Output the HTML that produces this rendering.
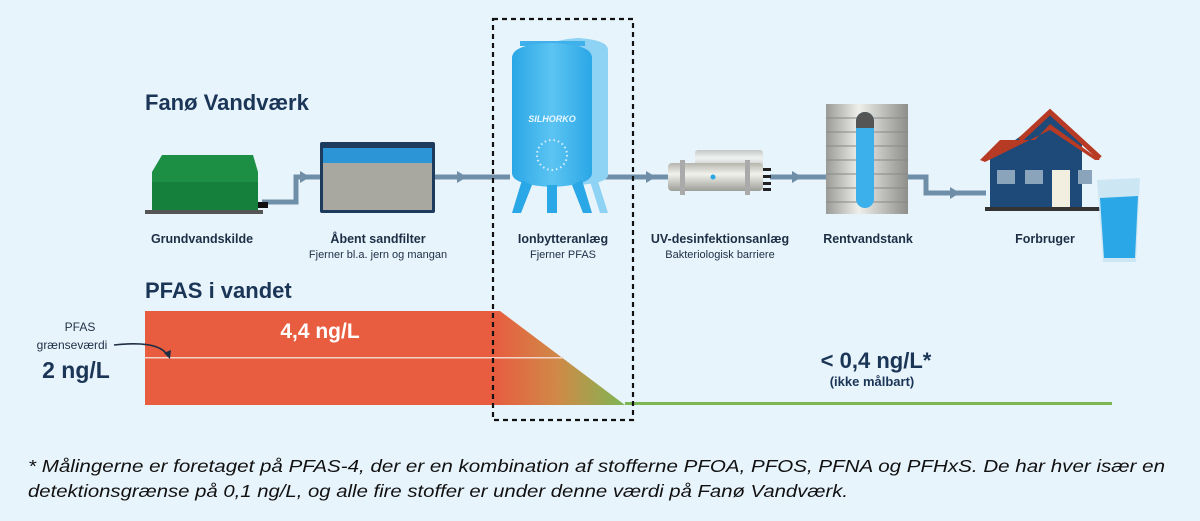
<!DOCTYPE html>
<html><head><meta charset="utf-8"><style>
html,body{margin:0;padding:0;background:#e8f4fc;}
svg{display:block;font-family:"Liberation Sans",sans-serif;}
</style></head><body>
<svg width="1200" height="521" viewBox="0 0 1200 521" xmlns="http://www.w3.org/2000/svg">
<defs>
<linearGradient id="fade" gradientUnits="userSpaceOnUse" x1="493" x2="625" y1="0" y2="0">
<stop offset="0" stop-color="#e85c3f"/><stop offset="0.5" stop-color="#cf8a48"/><stop offset="1" stop-color="#7db653"/>
</linearGradient>
<linearGradient id="tank" x1="0" x2="1"><stop offset="0" stop-color="#9a9a96"/><stop offset="0.4" stop-color="#eeeeea"/><stop offset="1" stop-color="#8e8e8a"/></linearGradient>
<linearGradient id="uv" x1="0" x2="0" y1="0" y2="1"><stop offset="0" stop-color="#b5b5ae"/><stop offset="0.4" stop-color="#f2f2ec"/><stop offset="1" stop-color="#9e9e98"/></linearGradient>
<linearGradient id="blue" x1="0" x2="1"><stop offset="0" stop-color="#2aa7e6"/><stop offset="0.5" stop-color="#5cc4f2"/><stop offset="1" stop-color="#2aa7e6"/></linearGradient>
</defs>
<rect width="1200" height="521" fill="#e8f4fc"/>

<!-- pipes -->
<g stroke="#6f8fa8" stroke-width="5" fill="none">
<path d="M262 202 H296 V177 H320"/>
<path d="M435 177 H510"/>
<path d="M600 177 H668"/>
<path d="M770 177 H826"/>
<path d="M908 177 H926 V193 H986"/>
</g>
<g fill="#6f8fa8">
<path d="M300 171 L310 177 L300 183Z"/>
<path d="M457 171 L467 177 L457 183Z"/>
<path d="M646 171 L656 177 L646 183Z"/>
<path d="M792 171 L802 177 L792 183Z"/>
<path d="M950 187 L960 193 L950 199Z"/>
</g>

<!-- Grundvandskilde -->
<rect x="145" y="210" width="118" height="4" fill="#555"/>
<path d="M152 210 L152 172 L162 155 L253 155 L258 172 L258 210Z" fill="#1d8f45"/>
<path d="M152 182 L258 182 L258 210 L152 210Z" fill="#14803b"/>
<rect x="258" y="202" width="10" height="6" fill="#111"/>

<!-- sandfilter -->
<rect x="320" y="142" width="115" height="71" rx="2" fill="#1d3b5c"/>
<rect x="323" y="148" width="109" height="62" fill="#a9a8a0"/>
<rect x="323" y="148" width="109" height="15" fill="#2b95d6"/>

<!-- ionbytter tanks -->
<path d="M545 44 h60 v4 h-60z" fill="#7cc7ee"/>
<path d="M548 50 q0-10 30-12 q30 2 30 12 v125 q0 8 -30 10 q-30-2 -30-10z" fill="#8ed2f4"/>
<path d="M596 175 l12 38 h-8 l-12-38z" fill="#8ed2f4"/>
<path d="M520 41 h65 v5 h-65z" fill="#40b0ea"/>
<path d="M512 58 q0-14 40-15 q40 1 40 15 v115 q0 12 -40 14 q-40-2 -40-14z" fill="url(#blue)"/>
<text x="552" y="122" font-size="9" font-weight="bold" font-style="italic" fill="#e8f6ff" text-anchor="middle">SILHORKO</text>
<circle cx="552" cy="155" r="15" fill="none" stroke="#d8f0ff" stroke-width="2" stroke-dasharray="1.5 3"/>
<path d="M522 180 l-10 33 h9 l11-28z M582 180 l10 33 h-9 l-11-28z M547 185 h10 v28 h-10z" fill="#2aa7e6"/>

<!-- UV -->
<rect x="695" y="150" width="68" height="20" rx="3" fill="url(#uv)" opacity="0.7"/>
<rect x="668" y="163" width="95" height="28" rx="4" fill="url(#uv)"/>
<rect x="680" y="160" width="5" height="35" fill="#aaa"/><rect x="745" y="160" width="5" height="35" fill="#aaa"/>
<circle cx="713" cy="177" r="2.5" fill="#2aa7e6"/>
<g fill="#222"><rect x="763" y="168" width="8" height="3"/><rect x="763" y="175" width="8" height="3"/><rect x="763" y="182" width="8" height="3"/><rect x="763" y="188" width="8" height="3"/></g>

<!-- clean water tank -->
<rect x="826" y="104" width="82" height="110" fill="url(#tank)"/>
<g stroke="#888" stroke-width="1"><path d="M826 118H908M826 132H908M826 146H908M826 160H908M826 174H908M826 188H908M826 202H908"/></g>
<rect x="856" y="112" width="18" height="96" rx="9" fill="#3bb0ea"/>
<path d="M856 121 a9 9 0 0 1 18 0 v7 h-18z" fill="#555"/>

<!-- house -->
<path d="M990 158 L1050 115 L1082 140 V207 H990Z" fill="#1d4a78"/>
<path d="M980 160 L1000 140 L1035 140 L1050 124 L1100 160 L1095 160 L1050 130 L985 162Z" fill="#b63a24"/>
<path d="M1020 140 L1050 112 L1100 158" fill="none" stroke="#b63a24" stroke-width="5"/>
<rect x="985" y="207" width="115" height="4" fill="#333"/>
<rect x="997" y="170" width="18" height="14" fill="#8aa5bb"/>
<rect x="1025" y="170" width="18" height="14" fill="#8aa5bb"/>
<rect x="1052" y="170" width="18" height="37" fill="#f3efe0"/>
<rect x="1078" y="170" width="14" height="14" fill="#8aa5bb"/>
<path d="M1097 180 L1140 178 L1136 262 L1103 262Z" fill="#c9e4f3" opacity="0.9"/>
<path d="M1100 198 L1138 196 L1135 258 L1104 258Z" fill="#2aa7e6"/>

<!-- labels -->
<g fill="#1e2f45" text-anchor="middle" font-size="12.5" font-weight="bold">
<text x="202" y="243">Grundvandskilde</text>
<text x="378" y="243">Åbent sandfilter</text>
<text x="563" y="243">Ionbytteranlæg</text>
<text x="720" y="243">UV-desinfektionsanlæg</text>
<text x="868" y="243">Rentvandstank</text>
<text x="1045" y="243">Forbruger</text>
</g>
<g fill="#1e2f45" text-anchor="middle" font-size="11">
<text x="378" y="258">Fjerner bl.a. jern og mangan</text>
<text x="563" y="258">Fjerner PFAS</text>
<text x="720" y="258">Bakteriologisk barriere</text>
</g>
<text x="145" y="110" font-size="22" font-weight="bold" fill="#1a3556">Fanø Vandværk</text>
<text x="145" y="298" font-size="22" font-weight="bold" fill="#1a3556">PFAS i vandet</text>

<!-- PFAS chart -->
<path d="M145 311 L500 311 L625 405 L145 405Z" fill="url(#fade)"/>
<rect x="145" y="357" width="418" height="1.5" fill="#f2d5c8"/>
<rect x="625" y="402" width="487" height="3" fill="#7db653"/>
<text x="320" y="338" font-size="21" font-weight="bold" fill="#fff" text-anchor="middle">4,4 ng/L</text>
<text x="80" y="331" font-size="12" fill="#1e2f45" text-anchor="middle">PFAS</text>
<text x="72" y="349" font-size="12" fill="#1e2f45" text-anchor="middle">grænseværdi</text>
<path d="M114 345 Q160 340 168 356" fill="none" stroke="#1e2f45" stroke-width="1.6"/>
<path d="M164 353 L170 359 L171 350Z" fill="#1e2f45"/>
<text x="76" y="378" font-size="23" font-weight="bold" fill="#1a3556" text-anchor="middle">2 ng/L</text>
<text x="876" y="368" font-size="22" font-weight="bold" fill="#1a3556" text-anchor="middle">&lt; 0,4 ng/L*</text>
<text x="872" y="386" font-size="13" font-weight="bold" fill="#1a3556" text-anchor="middle">(ikke målbart)</text>

<!-- dashed box -->
<rect x="493" y="19" width="140" height="401" fill="none" stroke="#111" stroke-width="2.2" stroke-dasharray="5 4"/>

<!-- footnote -->
<text x="28" y="472" font-size="17.5" font-style="italic" fill="#111" textLength="1137" lengthAdjust="spacingAndGlyphs">* Målingerne er foretaget på PFAS-4, der er en kombination af stofferne PFOA, PFOS, PFNA og PFHxS. De har hver især en</text>
<text x="28" y="497" font-size="17.5" font-style="italic" fill="#111" textLength="820" lengthAdjust="spacingAndGlyphs">detektionsgrænse på 0,1 ng/L, og alle fire stoffer er under denne værdi på Fanø Vandværk.</text>
</svg>
</body></html>
